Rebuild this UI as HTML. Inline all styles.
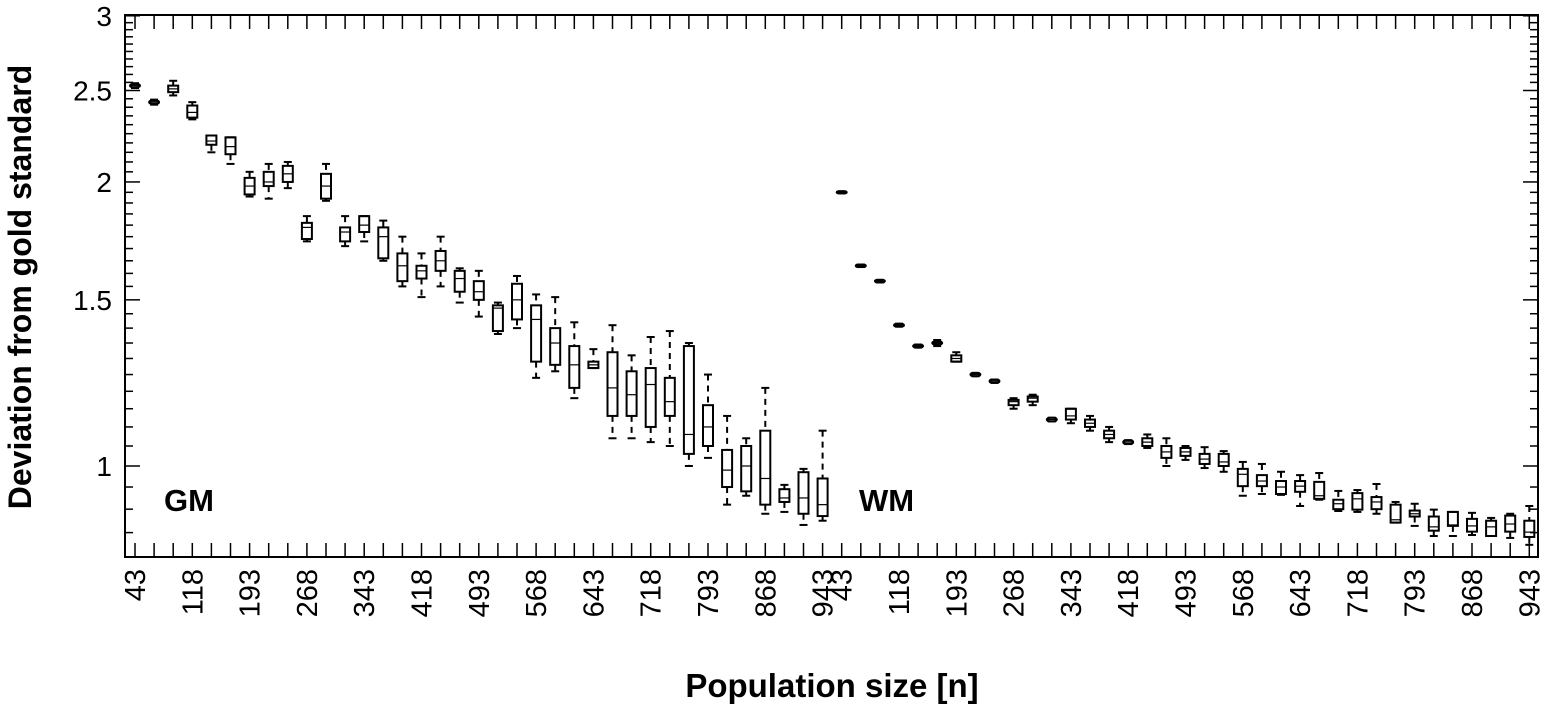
<!DOCTYPE html>
<html><head><meta charset="utf-8"><style>
body{margin:0;background:#fff;}
svg text{font-family:"Liberation Sans",Arial,sans-serif;fill:#000;}
</style></head><body>
<svg id="chart" width="1547" height="708" viewBox="0 0 1547 708" xmlns="http://www.w3.org/2000/svg">
<g id="marks"></g>
<g id="axes"></g>
<text x="31" y="287" transform="rotate(-90 31 287)" text-anchor="middle" font-size="32" font-weight="bold">Deviation from gold standard</text>
<text x="832" y="697" text-anchor="middle" font-size="33" font-weight="bold">Population size [n]</text>
<text x="164" y="511" font-size="31" font-weight="bold">GM</text>
<text x="859" y="511" font-size="31" font-weight="bold">WM</text>
</svg>
<script>
const sizes=[43,68,93,118,143,168,193,218,243,268,293,318,343,368,393,418,443,468,493,518,543,568,593,618,643,668,693,718,743,768,793,818,843,868,893,918,943];
const gmMed=[2.53,2.43,2.51,2.37,2.21,2.18,1.98,2.00,2.04,1.79,1.98,1.77,1.80,1.75,1.63,1.61,1.65,1.58,1.53,1.47,1.50,1.43,1.35,1.28,1.28,1.21,1.19,1.22,1.17,1.08,1.10,0.99,1.00,0.97,0.925,0.925,0.91];
const gmQ3=[2.54,2.44,2.53,2.41,2.24,2.23,2.02,2.05,2.08,1.81,2.04,1.79,1.84,1.79,1.68,1.63,1.69,1.61,1.57,1.48,1.56,1.48,1.40,1.34,1.29,1.32,1.26,1.27,1.24,1.34,1.16,1.04,1.05,1.09,0.945,0.985,0.97];
const gmQ1=[2.52,2.42,2.49,2.34,2.19,2.14,1.94,1.98,2.00,1.74,1.92,1.73,1.77,1.66,1.57,1.58,1.61,1.53,1.50,1.39,1.43,1.29,1.28,1.21,1.27,1.13,1.13,1.10,1.13,1.03,1.05,0.95,0.94,0.91,0.916,0.89,0.885];
const gmHi=[2.545,2.445,2.56,2.43,2.24,2.23,2.05,2.09,2.10,1.84,2.09,1.84,1.84,1.82,1.75,1.68,1.75,1.62,1.61,1.49,1.59,1.52,1.51,1.42,1.33,1.41,1.31,1.37,1.39,1.35,1.25,1.13,1.07,1.21,0.955,0.993,1.09];
const gmLo=[2.515,2.415,2.47,2.33,2.15,2.09,1.93,1.92,1.97,1.73,1.91,1.71,1.73,1.65,1.55,1.51,1.55,1.49,1.44,1.38,1.40,1.24,1.26,1.18,1.27,1.07,1.07,1.06,1.05,1.00,1.02,0.91,0.93,0.89,0.894,0.866,0.875];
const wmMed=[1.95,1.63,1.57,1.41,1.34,1.35,1.30,1.25,1.23,1.17,1.18,1.12,1.13,1.11,1.08,1.06,1.06,1.035,1.035,1.017,1.01,0.98,0.964,0.95,0.952,0.93,0.912,0.923,0.916,0.877,0.89,0.862,0.866,0.864,0.862,0.868,0.851];
const wmQ3=[1.955,1.635,1.575,1.415,1.345,1.355,1.31,1.255,1.235,1.175,1.185,1.125,1.15,1.12,1.09,1.065,1.07,1.05,1.045,1.03,1.03,0.993,0.978,0.964,0.964,0.962,0.921,0.936,0.927,0.910,0.897,0.884,0.894,0.879,0.875,0.886,0.875];
const wmQ1=[1.945,1.625,1.565,1.405,1.335,1.345,1.29,1.245,1.225,1.16,1.17,1.115,1.12,1.10,1.07,1.055,1.05,1.02,1.025,1.005,1.0,0.952,0.952,0.934,0.939,0.923,0.90,0.899,0.90,0.871,0.884,0.854,0.864,0.852,0.843,0.852,0.841];
const wmHi=[1.955,1.635,1.575,1.415,1.345,1.36,1.32,1.255,1.235,1.18,1.19,1.125,1.15,1.13,1.10,1.065,1.08,1.07,1.05,1.047,1.037,1.01,1.005,0.986,0.978,0.983,0.941,0.943,0.957,0.916,0.912,0.899,0.894,0.892,0.881,0.890,0.907];
const wmLo=[1.945,1.625,1.565,1.405,1.335,1.34,1.29,1.245,1.225,1.15,1.16,1.115,1.11,1.09,1.06,1.055,1.045,1.0,1.015,0.995,0.986,0.93,0.934,0.932,0.907,0.921,0.896,0.894,0.89,0.871,0.864,0.843,0.843,0.845,0.843,0.839,0.825];
const yTicks=[1,1.5,2,2.5,3];

const NS="http://www.w3.org/2000/svg";
const L=125,R=1538,T=15,B=557;
function yScale(v){return 466-Math.log(v)*409.8;}
function xScale(i){return 135+i*19.1;}
const marks=document.getElementById('marks'), axes=document.getElementById('axes');
function mk(tag,attrs,parent){const e=document.createElementNS(NS,tag);for(const k in attrs)e.setAttribute(k,attrs[k]);parent.appendChild(e);return e;}

function drawGroup(med,q3,q1,hi,lo,offset,prefix){
  for(let i=0;i<med.length;i++){
    const cx=xScale(i+offset),w=10;
    const g=mk('g',{},marks);
    
    
    const yq3=yScale(q3[i]),yq1=yScale(q1[i]),yh=yScale(hi[i]),yl=yScale(lo[i]),ym=yScale(med[i]);
    const st={stroke:'#000','stroke-width':2,fill:'none'};
    if(yq3-yh>0.5) mk('line',Object.assign({x1:cx,x2:cx,y1:yh,y2:yq3,'stroke-dasharray':'6,5'},st),g);
    if(yl-yq1>0.5) mk('line',Object.assign({x1:cx,x2:cx,y1:yq1,y2:yl,'stroke-dasharray':'6,5'},st),g);
    mk('line',Object.assign({x1:cx-4,x2:cx+4,y1:yh,y2:yh},st),g);
    mk('line',Object.assign({x1:cx-4,x2:cx+4,y1:yl,y2:yl},st),g);
    mk('rect',Object.assign({x:cx-w/2,y:yq3,width:w,height:Math.max(yq1-yq3,2),rx:(yq1-yq3<4?3:0)},st),g);
    mk('line',{x1:cx-w/2,x2:cx+w/2,y1:ym,y2:ym,stroke:'#000','stroke-width':1.2},g);
  }
}
drawGroup(gmMed,gmQ3,gmQ1,gmHi,gmLo,0,'gm');
drawGroup(wmMed,wmQ3,wmQ1,wmHi,wmLo,37,'wm');

const frame=mk('rect',{x:L,y:T,width:R-L,height:B-T,fill:'none',stroke:'#000','stroke-width':2},axes);


for(let k=16;k<=60;k++){
  const v=k*0.05, y=yScale(v);
  if(y<T-1||y>B) continue;
  const major=Math.abs(v*2-Math.round(v*2))<1e-6;
  const len=major?15:8;
  mk('line',{x1:L,x2:L+len,y1:y,y2:y,stroke:'#000','stroke-width':1.5},axes);
  mk('line',{x1:R,x2:R-len,y1:y,y2:y,stroke:'#000','stroke-width':1.5},axes);
}
yTicks.forEach(v=>{
  const t=mk('text',{x:112,y:yScale(v)+10,'text-anchor':'end','font-size':28},axes);
  
  
  t.textContent=String(v);
});
for(let i=0;i<74;i++){
  const x=xScale(i);
  mk('line',{x1:x,x2:x,y1:B,y2:B-14,stroke:'#000','stroke-width':1.5},axes);
  mk('line',{x1:x,x2:x,y1:T,y2:T+14,stroke:'#000','stroke-width':1.5},axes);
  const n=sizes[i%37];
  if((i%37)%3===0){
    const t=mk('text',{x:x+10,y:569,'text-anchor':'end','font-size':29,transform:'rotate(-90 '+(x+10)+' 569)'},axes);
    
    
    t.textContent=String(n);
  }
}
</script>
</body></html>
